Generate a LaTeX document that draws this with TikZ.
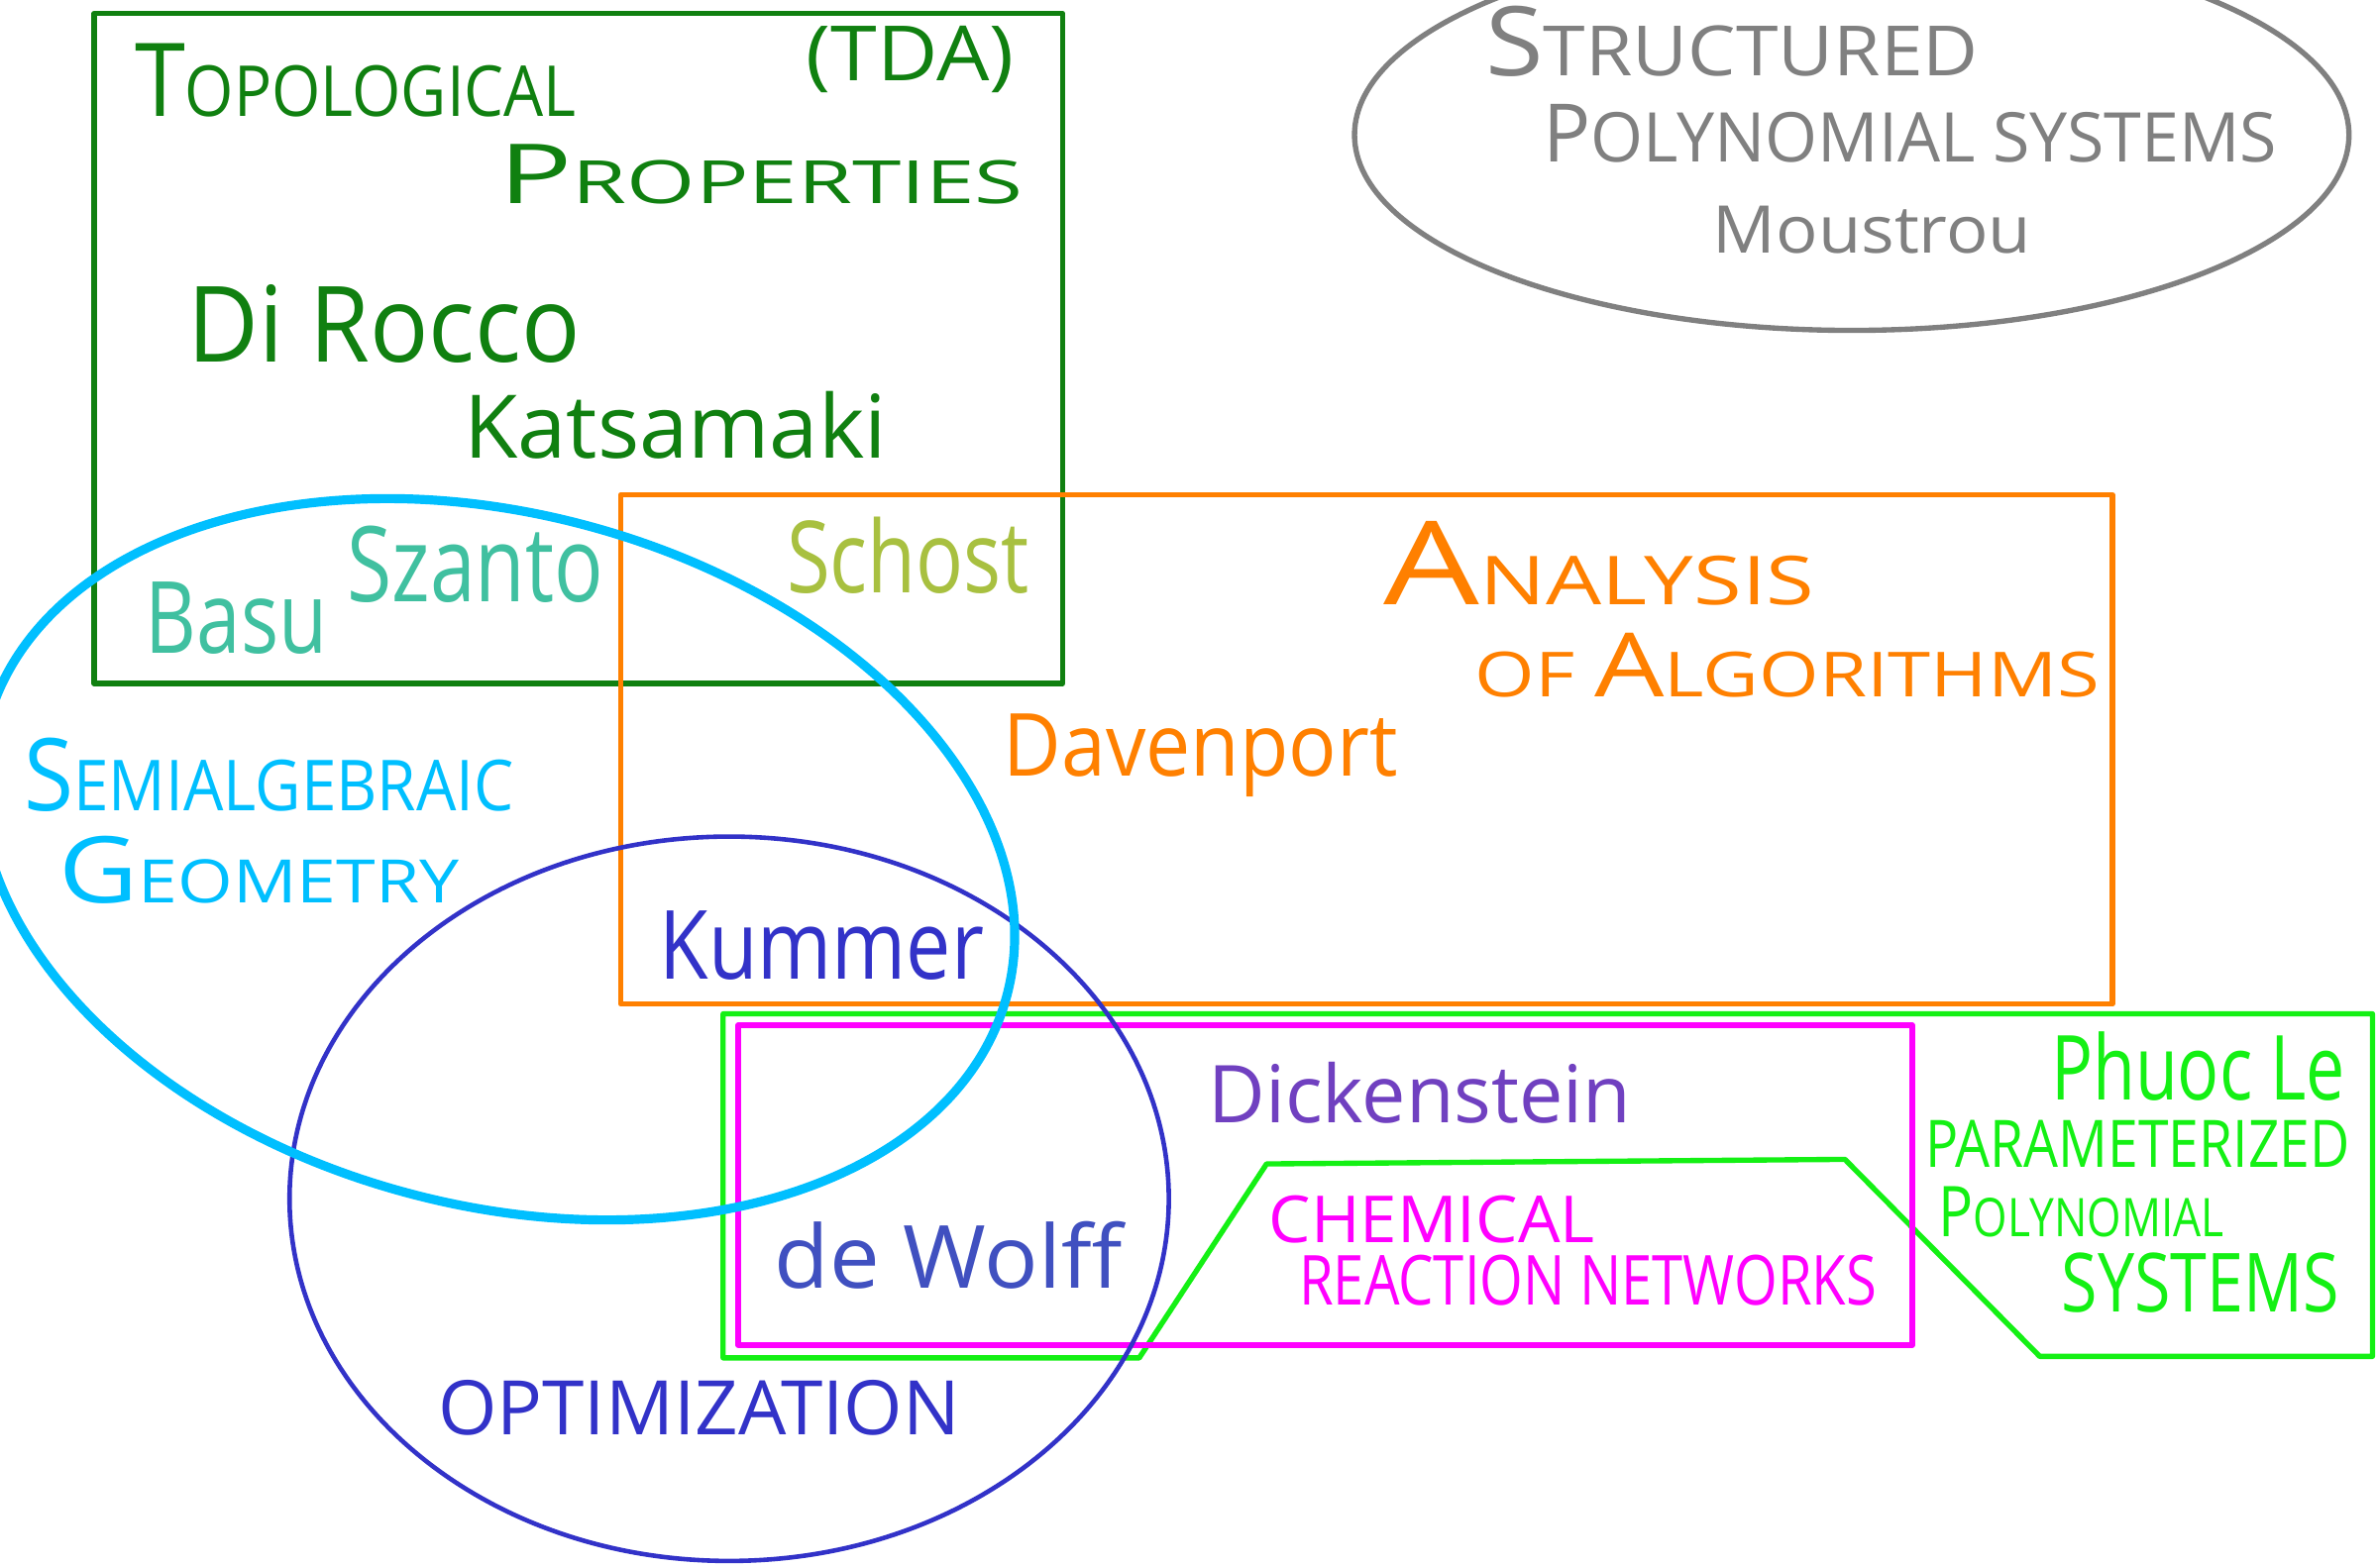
\documentclass[tikz,border=0pt]{standalone}
\usepackage{fontspec}
\setmainfont{Open Sans}
\usepackage{graphicx}
\definecolor{dgreen}{RGB}{16,128,16}
\definecolor{ggray}{RGB}{128,128,128}
\definecolor{orng}{RGB}{255,128,0}
\definecolor{cyn}{RGB}{0,191,255}
\definecolor{indg}{RGB}{50,50,200}
\definecolor{mgnt}{RGB}{255,0,255}
\definecolor{lgreen}{RGB}{20,240,20}
\definecolor{teal2}{RGB}{64,192,160}
\definecolor{olive2}{RGB}{168,192,64}
\definecolor{purp}{RGB}{112,64,192}
\definecolor{dwblue}{RGB}{64,80,192}
% \hw{width}{height}{text}
\newcommand\hw[3]{\resizebox{#1pt}{#2pt}{#3}}
% \sk{ratio}{first}{rest}: hand small caps
\newcommand\sk[3]{#2\scalebox{#1}{#3}}
\begin{document}
\begin{tikzpicture}[x=1pt,y=1pt,
  txt/.style={inner sep=0pt, outer sep=0pt, anchor=base west},
  frame/.style={line width=3.5pt, line join=round}]
\useasboundingbox (0,0) rectangle (1568,-1034);
% shapes
\draw[frame, dgreen] (62,-9) rectangle (701,-451);
\draw[frame, ggray] (1221.5,-89) ellipse [x radius=328, y radius=129];
\draw[frame, orng] (409.5,-326.5) rectangle (1393.5,-662.5);
\draw[frame, lgreen] (477,-669) -- (1565,-669) -- (1565,-895) -- (1345.5,-895)
   -- (1217,-765) -- (835.5,-768) -- (751.5,-896) -- (477,-896) -- cycle;
\draw[frame, mgnt] (487,-676.5) rectangle (1261.5,-887.5);
\draw[line width=3pt, indg] (481,-791) ellipse [x radius=290, y radius=239];
\draw[line width=6pt, cyn, rotate around={-15:(328,-567)}] (328,-567) ellipse [x radius=348, y radius=228];
% texts
\node[txt, dgreen] (topo) at (89,-77) {\hw{291}{48}{\sk{0.69}{T}{OPOLOGICAL}}};
\node[inner sep=0pt, dgreen] (tda) at (600.5,-39) {\resizebox*{137pt}{44pt}{(TDA)}};
\node[txt, dgreen] (prop) at (329,-134) {\hw{346}{39}{\sk{0.72}{P}{ROPERTIES}}};
\node[txt, dgreen] (dirocco) at (124,-239) {\hw{259}{51}{Di Rocco}};
\node[txt, dgreen] (kats) at (306,-302) {\hw{279}{44}{Katsamaki}};
\node[txt, teal2] (basu) at (96,-431) {\hw{120}{47}{Basu}};
\node[txt, teal2] (szanto) at (229,-397) {\hw{169}{50}{Szanto}};
\node[txt, olive2] (schost) at (519,-391) {\hw{160}{50}{Schost}};
\node[txt, ggray] (struct) at (980,-50) {\hw{325}{46}{\sk{0.72}{S}{TRUCTURED}}};
\node[txt, ggray] (polsys) at (1018,-107) {\hw{484}{38}{\sk{0.85}{P}{OLYNOMIAL SYSTEMS}}};
\node[txt, ggray] (moustrou) at (1130,-167) {\hw{210}{31}{Moustrou}};
\node[txt, orng] (analysis) at (913,-399) {\hw{284}{55}{\sk{0.58}{A}{NALYSIS}}};
\node[txt, orng] (ofalg) at (973,-460) {\hw{412}{42}{\scalebox{0.7}{OF }\sk{0.7}{A}{LGORITHMS}}};
\node[txt, orng] (davenport) at (662,-512) {\hw{260}{41}{Davenport}};
\node[txt, cyn] (semialg) at (16,-535) {\hw{323}{48}{\sk{0.7}{S}{EMIALGEBRAIC}}};
\node[txt, cyn] (geom) at (39,-596) {\hw{264}{44}{\sk{0.65}{G}{EOMETRY}}};
\node[txt, indg] (kummer) at (435,-646) {\hw{214}{45}{Kummer}};
\node[txt, dwblue] (dewolff) at (511,-850) {\hw{229}{44}{de Wolff}};
\node[txt, indg] (optim) at (289,-947) {\hw{344}{36}{OPTIMIZATION}};
\node[txt, purp] (dicken) at (797,-741) {\hw{279}{40}{Dickenstein}};
\node[txt, mgnt] (chem) at (837,-820) {\hw{215}{31}{CHEMICAL}};
\node[txt, mgnt] (reac) at (857,-861) {\hw{381}{33}{REACTION NETWORKS}};
\node[txt, lgreen] (phuoc) at (1353,-726) {\hw{194}{45}{Phuoc Le}};
\node[txt, lgreen] (param) at (1270,-770) {\hw{280}{31}{PARAMETERIZED}};
\node[txt, lgreen] (polyg) at (1279,-816) {\hw{188}{33}{\sk{0.76}{P}{OLYNOMIAL}}};
\node[txt, lgreen] (systg) at (1360,-866) {\hw{183}{39}{SYSTEMS}};
\end{tikzpicture}
\end{document}
